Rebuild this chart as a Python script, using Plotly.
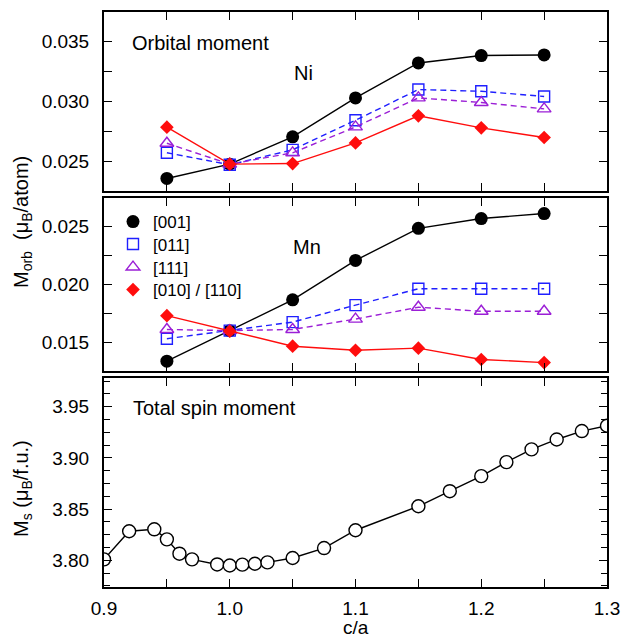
import plotly.graph_objects as go
from plotly.subplots import make_subplots

# ---------------- data ----------------
ca_orb = [0.95, 1.00, 1.05, 1.10, 1.15, 1.20, 1.25]

ni_001 = [0.02355, 0.02475, 0.02704, 0.03030, 0.03323, 0.03385, 0.03390]
ni_011 = [0.02570, 0.02470, 0.02595, 0.02843, 0.03100, 0.03086, 0.03042]
ni_111 = [0.02650, 0.02475, 0.02570, 0.02787, 0.03030, 0.02992, 0.02938]
ni_010 = [0.02785, 0.02475, 0.02480, 0.02653, 0.02880, 0.02779, 0.02698]

mn_001 = [0.01335, 0.01600, 0.01867, 0.02209, 0.02487, 0.02572, 0.02615]
mn_011 = [0.01530, 0.01600, 0.01674, 0.01821, 0.01963, 0.01963, 0.01963]
mn_111 = [0.01610, 0.01600, 0.01610, 0.01700, 0.01803, 0.01768, 0.01768]
mn_010 = [0.01730, 0.01595, 0.01465, 0.01430, 0.01448, 0.01350, 0.01323]

ca_spin = [0.90, 0.92, 0.94, 0.95, 0.96, 0.97, 0.99, 1.00, 1.01, 1.02, 1.03,
           1.05, 1.075, 1.10, 1.15, 1.175, 1.20, 1.22, 1.24, 1.26, 1.28, 1.30]
ms_total = [3.801, 3.8284, 3.8303, 3.8205, 3.8065, 3.801, 3.796, 3.795, 3.7958,
            3.7967, 3.798, 3.8023, 3.812, 3.8294, 3.8528, 3.8675, 3.8822,
            3.8959, 3.9083, 3.918, 3.9262, 3.9314]

series_names = ["[001]", "[011]", "[111]", "[010] / [110]"]

# ---------------- styling ----------------
FONT = "Liberation Sans, Arial, Helvetica, sans-serif"
styles = [
    dict(color="black", dash="solid", symbol="circle", size=13, fill=True),
    dict(color="#1f1fff", dash="dash", symbol="square-open", size=11, fill=False),
    dict(color="#9b1fd6", dash="dash", symbol="triangle-up-open", size=12, fill=False),
    dict(color="#ff0d0d", dash="solid", symbol="diamond", size=10.5, fill=True),
]

fig = make_subplots(rows=3, cols=1, shared_xaxes=True, vertical_spacing=0.01)

ni_sets = [ni_001, ni_011, ni_111, ni_010]
mn_sets = [mn_001, mn_011, mn_111, mn_010]

def marker_of(st):
    return dict(symbol=st["symbol"], size=st["size"], color=st["color"],
                line=dict(color=st["color"], width=1.4 if not st["fill"] else 0))

for row, sets in ((1, ni_sets), (2, mn_sets)):
    for st, ys in zip(styles, sets):
        fig.add_trace(go.Scatter(
            x=ca_orb, y=ys, mode="lines+markers", showlegend=False,
            line=dict(color=st["color"], width=1.4,
                      dash="solid" if st["dash"] == "solid" else "6px,4px"),
            marker=marker_of(st),
        ), row=row, col=1)

# legend entries (markers only), one legend per row for exact spacing
legend_ids = ["legend", "legend2", "legend3", "legend4"]
for st, name, lid in zip(styles, series_names, legend_ids):
    fig.add_trace(go.Scatter(
        x=[None], y=[None], mode="markers", name=name, showlegend=True,
        legend=lid, marker=marker_of(st),
    ), row=2, col=1)

fig.add_trace(go.Scatter(
    x=ca_spin, y=ms_total, mode="lines+markers", showlegend=False,
    line=dict(color="black", width=1.4),
    marker=dict(symbol="circle", size=13, color="white", line=dict(color="black", width=1.4)),
), row=3, col=1)

# ---------------- axes ----------------
W, H = 624, 638
L, R, T, B = 104, 17, 12, 51
ph = H - T - B
pw = W - L - R
def dom(top_px, bot_px):
    return [(H - B - bot_px) / ph, (H - B - top_px) / ph]

axis_common = dict(
    showline=True, linewidth=2, linecolor="black", mirror="allticks",
    ticks="inside", ticklen=8, tickwidth=1.3, tickcolor="black",
    showgrid=False, zeroline=False, automargin=False,
    tickfont=dict(family=FONT, size=19, color="black"),
)

for i, d in zip((1, 2, 3), (dom(12, 191), dom(198, 371), dom(378, 587))):
    fig.update_xaxes(
        range=[0.9, 1.3], dtick=0.1, tick0=0.9,
        minor=dict(dtick=0.05, ticklen=8, tickwidth=1.3, tickcolor="black", ticks="inside"),
        showticklabels=(i == 3), tickformat=".1f", ticklabelstandoff=3,
        **axis_common, row=i, col=1)
    fig.update_yaxes(domain=d, row=i, col=1)

fig.update_yaxes(range=[0.0225, 0.0375], dtick=0.005, tick0=0.02, tickformat=".3f",
                 minor=dict(dtick=0.0025, ticklen=8, tickwidth=1.3, tickcolor="black", ticks="inside"),
                 ticklabelstandoff=9, **axis_common, row=1, col=1)
fig.update_yaxes(range=[0.0125, 0.0275], dtick=0.005, tick0=0.01, tickformat=".3f",
                 minor=dict(dtick=0.0025, ticklen=8, tickwidth=1.3, tickcolor="black", ticks="inside"),
                 ticklabelstandoff=9, **axis_common, row=2, col=1)
fig.update_yaxes(range=[3.774, 3.978], dtick=0.05, tick0=3.8, tickformat=".2f",
                 minor=dict(dtick=0.0125, ticklen=6, tickwidth=1.3, tickcolor="black", ticks="inside"),
                 ticklabelstandoff=9, **axis_common, row=3, col=1)

# ---------------- annotations ----------------
ann_font = dict(family=FONT, size=20, color="black")
fig.add_annotation(x=0.9204, y=0.03492, xref="x", yref="y", text="Orbital moment",
                   showarrow=False, xanchor="left", yanchor="middle", font=ann_font)
fig.add_annotation(x=1.0589, y=0.03235, xref="x", yref="y", text="Ni",
                   showarrow=False, xanchor="center", yanchor="middle", font=ann_font)
fig.add_annotation(x=1.0612, y=0.02325, xref="x2", yref="y2", text="Mn",
                   showarrow=False, xanchor="center", yanchor="middle", font=ann_font)
fig.add_annotation(x=0.9212, y=3.949, xref="x3", yref="y3", text="Total spin moment",
                   showarrow=False, xanchor="left", yanchor="middle", font=ann_font)

# axis titles
fig.add_annotation(x=(22 - L) / pw, y=(H - B - 222) / ph, xref="paper", yref="paper",
                   text="M<sub>orb</sub>  (μ<sub>B</sub>/atom)", textangle=-90, showarrow=False,
                   xanchor="center", yanchor="middle", font=ann_font)
fig.add_annotation(x=(22 - L) / pw, y=(H - B - 489) / ph, xref="paper", yref="paper",
                   text="M<sub>s</sub> (μ<sub>B</sub>/f.u.)", textangle=-90, showarrow=False,
                   xanchor="center", yanchor="middle", font=ann_font)
fig.add_annotation(x=0.5, y=(H - B - 615) / ph, xref="paper", yref="paper",
                   text="c/a", showarrow=False, xanchor="center", yanchor="top",
                   font=dict(family=FONT, size=19, color="black"))

legend_rows_px = [222, 244.5, 267.5, 290]
leg_layout = {}
for lid, ypx in zip(legend_ids, legend_rows_px):
    leg_layout[lid] = dict(x=(113 - L) / pw, y=(H - B - ypx) / ph, xanchor="left", yanchor="middle",
                           font=dict(family=FONT, size=17, color="black"),
                           bgcolor="rgba(0,0,0,0)", borderwidth=0, itemsizing="trace")

fig.update_layout(
    width=W, height=H,
    margin=dict(l=L, r=R, t=T, b=B, autoexpand=False),
    paper_bgcolor="white", plot_bgcolor="white",
    font=dict(family=FONT, color="black"),
    **leg_layout,
)

fig.write_html(
    "out.html",
    config={"displayModeBar": False},
    post_script="document.body.style.margin='0';document.body.style.overflow='hidden';",
)
